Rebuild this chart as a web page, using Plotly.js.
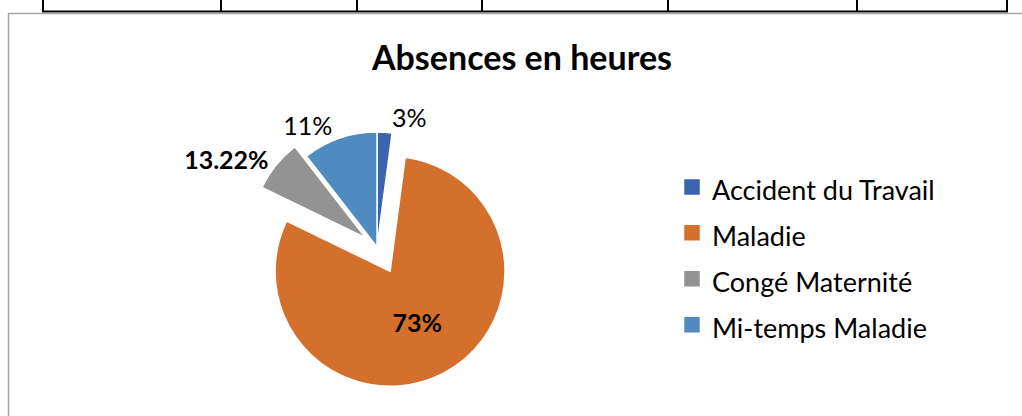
<!DOCTYPE html>
<html>
<head>
<meta charset="utf-8">
<script src="https://cdn.plot.ly/plotly-3.0.1.min.js"></script>
<style>
  html, body { margin: 0; padding: 0; background: #ffffff; }
  #chart { width: 1022px; height: 416px; }
</style>
</head>
<body>
<div id="chart"></div>
<script>
// ---- data ----
const categories = ['Accident du Travail', 'Maladie', 'Congé Maternité', 'Mi-temps Maladie'];
const sliceValues = [2.1, 80.1, 7.3, 10.5];
const labelTexts = ['3%', '73%', '13.22%', '11%'];
const chartTitle = 'Absences en heures';

// ---- style ----
const W = 1022, H = 416;
const colors = ['#3b64ad', '#d4702c', '#939393', '#4f8bc0'];
const pulls = [0, 0.24, 0.13, 0];
const boldLabel = [false, true, true, false];
const textPos = ['outside', 'inside', 'outside', 'outside'];

const px = x => x / W;
const py = y => 1 - y / H;

// pie box: centre (377,247), radius 115, max pull 0.24
const cx = 377, cy = 247, r = 115;
const half = r * (1 + Math.max(...pulls));

const trace = {
  type: 'pie',
  labels: categories.map(c => '<span style="font-size:27px">' + c + '</span>'),
  values: sliceValues,
  text: labelTexts.map((t, i) => boldLabel[i] ? '<b>' + t + '</b>' : t),
  texttemplate: '%{text}',
  textinfo: 'text',
  textposition: textPos,
  insidetextorientation: 'horizontal',
  textfont: { family: 'Lato, sans-serif', size: 25, color: '#000000' },
  outsidetextfont: { family: 'Lato, sans-serif', size: 25, color: '#000000' },
  insidetextfont: { family: 'Lato, sans-serif', size: 25, color: '#000000' },
  marker: { colors: colors, line: { color: '#ffffff', width: 1.5 } },
  pull: pulls,
  sort: false,
  direction: 'clockwise',
  rotation: 0,
  hoverinfo: 'none',
  domain: { x: [px(cx - half), px(cx + half)], y: [py(cy + half), py(cy - half)] }
};

const shapes = [];
const black = { color: '#000000', width: 2 };
const grey = { color: '#a6a6a6', width: 1.5 };
// table fragment at top
shapes.push({ type: 'line', xref: 'paper', yref: 'paper', x0: px(42), x1: px(1008), y0: py(11.5), y1: py(11.5), line: black });
[43, 221, 357, 482, 668, 857, 1007].forEach(x => {
  shapes.push({ type: 'line', xref: 'paper', yref: 'paper', x0: px(x), x1: px(x), y0: py(0), y1: py(11.5), line: black });
});
// chart frame
shapes.push({ type: 'line', xref: 'paper', yref: 'paper', x0: px(8), x1: px(1022), y0: py(13.5), y1: py(13.5), line: grey });
shapes.push({ type: 'line', xref: 'paper', yref: 'paper', x0: px(8.5), x1: px(8.5), y0: py(13.5), y1: py(416), line: grey });

const layout = {
  width: W, height: H,
  margin: { l: 0, r: 0, t: 0, b: 0 },
  paper_bgcolor: '#ffffff',
  plot_bgcolor: '#ffffff',
  font: { family: 'Lato, sans-serif', color: '#000000' },
  title: {
    text: '<b>' + chartTitle + '</b>',
    font: { family: 'Lato, sans-serif', size: 34, color: '#000000' },
    xref: 'paper', yref: 'paper',
    x: px(522), xanchor: 'center',
    y: py(58), yanchor: 'middle'
  },
  showlegend: true,
  legend: {
    x: px(672), xanchor: 'left',
    y: py(159), yanchor: 'top',
    font: { family: 'Lato, sans-serif', size: 33, color: '#000000' },
    bgcolor: 'rgba(0,0,0,0)',
    borderwidth: 0,
    traceorder: 'normal'
  },
  shapes: shapes
};

Plotly.newPlot('chart', [trace], layout, { displayModeBar: false, staticPlot: true }).then(() => {
  document.querySelectorAll('.legendpie').forEach(p => p.setAttribute('d', 'M8.5,8.5H-8.5V-8.5H8.5Z'));
});
</script>
</body>
</html>
